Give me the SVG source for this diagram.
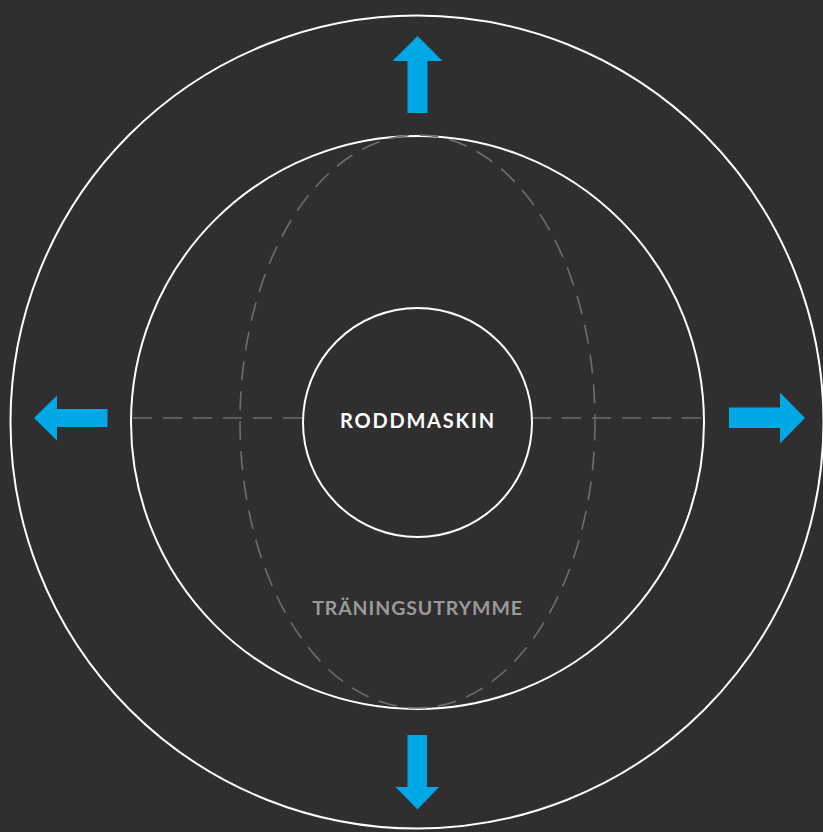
<svg xmlns="http://www.w3.org/2000/svg" width="823" height="832" viewBox="0 0 823 832">
<style>
.ring{fill:none;stroke:#ffffff;stroke-width:2}
.dash{fill:none;stroke:#6e6e6e;stroke-width:1.6;stroke-dasharray:19 11}
.arrow{fill:#00a8e6}
.label{font-family:Lato,"Liberation Sans",sans-serif;font-weight:bold;text-anchor:middle}
</style>
<rect width="823" height="832" fill="#302e2f"/>
<g id="outer-ring"><circle class="ring" cx="417" cy="422" r="406.5"/></g>
<g id="training-space">
<circle class="ring" cx="417.5" cy="422.5" r="286.5"/>
<ellipse class="dash" cx="417.5" cy="421.5" rx="177.5" ry="286.5"/>
<text class="label" x="417.5" y="615" font-size="19.5" fill="#9a9a9a" letter-spacing="0.9">TRÄNINGSUTRYMME</text>
</g>
<g id="connectors">
<line class="dash" x1="133" y1="418" x2="303" y2="418"/>
<line class="dash" x1="532" y1="418" x2="702" y2="418"/>
</g>
<g id="rowing-machine">
<circle class="ring" cx="417.5" cy="422.5" r="114.5"/>
<text class="label" x="418" y="428" font-size="20" fill="#ffffff" letter-spacing="1.8">RODDMASKIN</text>
</g>
<g id="arrow-up"><polygon class="arrow" points="417.5,36 442.5,61 427.5,61 427.5,113 407.5,113 407.5,61 392.5,61"/></g>
<g id="arrow-down"><polygon class="arrow" points="407.5,735 427,735 427,787 439,787 417.5,809.5 395.5,787 407.5,787"/></g>
<g id="arrow-left"><polygon class="arrow" points="34,418 57,395.5 57,409 107.5,409 107.5,427 57,427 57,440.5"/></g>
<g id="arrow-right"><polygon class="arrow" points="729,407.5 780,407.5 780,392.5 805,418 780,443.5 780,428 729,428"/></g>
</svg>
